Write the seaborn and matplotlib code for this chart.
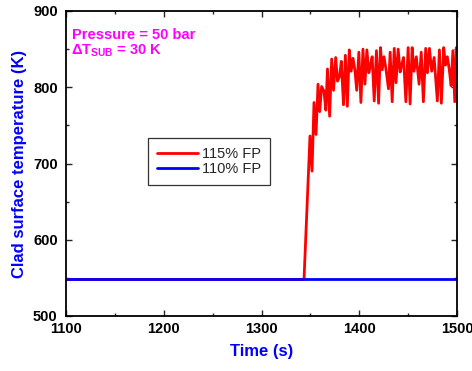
import matplotlib
matplotlib.use("Agg")
import matplotlib.pyplot as plt
import seaborn as sns
import pandas as pd
from matplotlib.ticker import MultipleLocator

# ---- data ----
time_115 = [1100, 1343.5, 1349.6, 1351.7, 1353.7, 1355.8, 1357.8, 1359.6, 1361.5, 1363.9,
            1365.8, 1367.5, 1369.7, 1371.8, 1373.7, 1375.9, 1377.8, 1380.0, 1381.6, 1383.9,
            1385.8, 1387.8, 1389.8, 1391.7, 1393.6, 1395.6, 1397.4, 1399.6, 1401.7, 1403.8,
            1405.8, 1407.8, 1409.8, 1411.5, 1413.2, 1415.3, 1417.6, 1419.8, 1421.7, 1423.5,
            1425.3, 1427.2, 1429.9, 1431.6, 1433.7, 1435.8, 1437.6, 1439.8, 1441.8, 1443.6,
            1445.3, 1447.7, 1450.0, 1452.0, 1454.1, 1456.0, 1458.4, 1461.2, 1463.4, 1465.6,
            1468.0, 1469.8, 1471.8, 1474.1, 1476.6, 1479.9, 1482.0, 1484.0, 1486.4, 1488.2,
            1490.1, 1492.1, 1494.0, 1495.8, 1497.7, 1499.3, 1500]
temp_115 = [548, 548, 736, 690, 780, 738, 804, 768, 801, 795,
            770, 824, 762, 837, 796, 839, 808, 815, 834, 777,
            842, 775, 849, 821, 838, 822, 796, 846, 780, 850,
            804, 849, 819, 829, 840, 782, 848, 779, 852, 823,
            840, 825, 798, 846, 781, 851, 806, 850, 820, 830,
            839, 781, 852, 778, 852, 821, 840, 804, 846, 781,
            851, 819, 851, 821, 839, 782, 849, 779, 852, 829,
            840, 823, 802, 848, 781, 852, 845]
time_110 = [1100, 1500]
temp_110 = [548, 548]

series_labels = ["115% FP", "110% FP"]
series_colors = ["#FF0000", "#0000FF"]
x_ticks = [1100, 1200, 1300, 1400, 1500]
y_ticks = [500, 600, 700, 800, 900]

df115 = pd.DataFrame({"Time": time_115, "Temp": temp_115})
df110 = pd.DataFrame({"Time": time_110, "Temp": temp_110})

sns.set_style("ticks")
plt.rcParams["font.family"] = ["Liberation Sans", "DejaVu Sans"]
plt.rcParams["mathtext.fontset"] = "custom"
plt.rcParams["mathtext.rm"] = "Liberation Sans:bold"
plt.rcParams["mathtext.it"] = "Liberation Sans:bold"
plt.rcParams["mathtext.bf"] = "Liberation Sans:bold"

fig = plt.figure(figsize=(4.72, 3.71), dpi=100)
ax = fig.add_axes([66/472, 1-316/371, (457-66)/472, (316-11)/371])

sns.lineplot(data=df115, x="Time", y="Temp", ax=ax, color=series_colors[0],
             linewidth=2.0, label=series_labels[0], estimator=None)
sns.lineplot(data=df110, x="Time", y="Temp", ax=ax, color=series_colors[1],
             linewidth=2.0, label=series_labels[1], estimator=None)

ax.set_xlim(1100, 1500)
ax.set_ylim(500, 900)
ax.set_xticks(x_ticks)
ax.set_yticks(y_ticks)
ax.xaxis.set_minor_locator(MultipleLocator(50))
ax.yaxis.set_minor_locator(MultipleLocator(50))
ax.tick_params(which="both", direction="in", top=True, right=True, width=1.0)
ax.tick_params(which="major", length=4.5)
ax.tick_params(which="minor", length=2.5)
ax.tick_params(axis="y", which="major", pad=6)
ax.tick_params(axis="x", which="major", pad=4)
for lab in ax.get_xticklabels() + ax.get_yticklabels():
    lab.set_fontweight("bold")
    lab.set_fontsize(10.5)
    lab.set_color("black")
for sp in ax.spines.values():
    sp.set_visible(True)
    sp.set_linewidth(1.3)
    sp.set_color("black")

ax.set_xlabel("Time (s)", fontsize=12, fontweight="bold", color="#0000FF", labelpad=6)
ax.set_ylabel("Clad surface temperature (K)", fontsize=12, fontweight="bold",
              color="#0000FF", labelpad=4)

ax.text(0.015, 0.908, "Pressure = 50 bar", transform=ax.transAxes, fontsize=10.5,
        fontweight="bold", color="#FF00FF", ha="left", va="baseline")
ax.text(0.013, 0.856, r"ΔT$_{\mathrm{SUB}}$ = 30 K", transform=ax.transAxes, fontsize=10.5,
        fontweight="bold", color="#FF00FF", ha="left", va="baseline")

leg = ax.legend(loc="upper left", bbox_to_anchor=(0.21, 0.584), borderaxespad=0,
                fontsize=10.5, frameon=True, fancybox=False, handlelength=2.8,
                handletextpad=0.3, borderpad=0.6, labelspacing=0.1)
leg.get_frame().set_edgecolor("black")
leg.get_frame().set_linewidth(0.9)

fig.savefig("out.png", dpi=100)
